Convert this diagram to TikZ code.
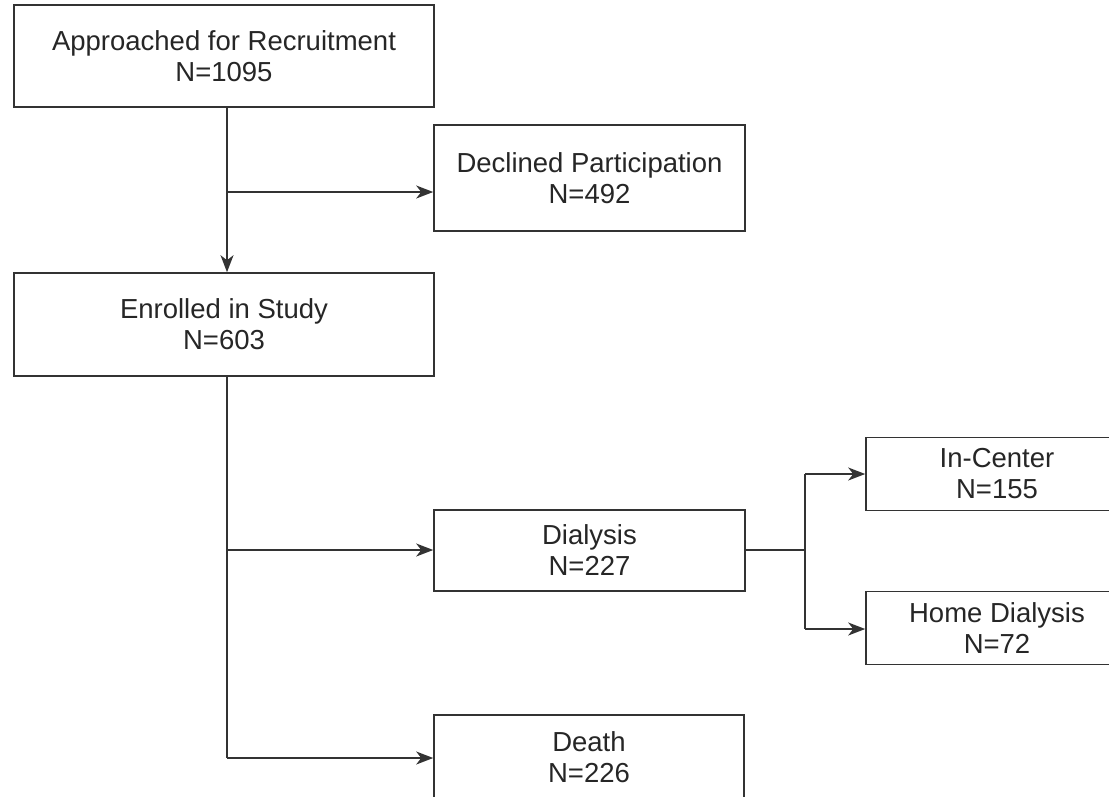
\documentclass[tikz,border=0pt]{standalone}
\usepackage{fontspec}
\setmainfont{Liberation Sans}
\usetikzlibrary{arrows.meta}
\begin{document}
\begin{tikzpicture}[x=1pt,y=-1pt,
  box/.style={draw=black!80, line width=1.6pt, align=center, inner sep=0pt,
    font=\fontsize{27.5}{31}\selectfont, text=black!85},
  conn/.style={draw=black!80, line width=1.6pt},
  arr/.style={conn, -{Stealth[length=17pt,width=13pt,inset=5pt]}}]
\useasboundingbox (0,0) rectangle (1109,796);
\clip (0,0) rectangle (1109,796);
\fill[white] (0,0) rectangle (1109,796);
\node[box, minimum width=420pt, minimum height=102pt] (appr) at (224,56) {Approached for Recruitment\\N=1095};
\node[box, minimum width=311pt, minimum height=106pt] (decl) at (589.5,178) {Declined Participation\\N=492};
\node[box, minimum width=420pt, minimum height=103pt] (enr) at (224,324.5) {Enrolled in Study\\N=603};
\node[box, minimum width=311pt, minimum height=81pt] (dial) at (589.5,550.5) {Dialysis\\N=227};
\node[box, minimum width=262pt, minimum height=73pt] (inc) at (997,474) {In-Center\\N=155};
\node[box, minimum width=262pt, minimum height=73pt] (home) at (997,628) {Home Dialysis\\N=72};
\node[box, minimum width=310pt, minimum height=84pt] (death) at (589,757) {Death\\N=226};
\coordinate (j1) at (227,192);
\coordinate (j2) at (227,550);
\coordinate (j3) at (227,758);
\coordinate (k1) at (805,550);
\coordinate (k2) at (805,474);
\coordinate (k3) at (805,629);
\draw[arr] (appr.south -| j1) -- (enr.north -| j1);
\draw[arr] (j1) -- (decl.west |- j1);
\draw[conn] (enr.south -| j3) -- (j3);
\draw[arr] (j2) -- (dial.west |- j2);
\draw[arr] (j3) -- (death.west |- j3);
\draw[conn] (dial.east |- k1) -- (k1);
\draw[conn] (k2) -- (k3);
\draw[arr] (k2) -- (inc.west |- k2);
\draw[arr] (k3) -- (home.west |- k3);
\end{tikzpicture}
\end{document}
